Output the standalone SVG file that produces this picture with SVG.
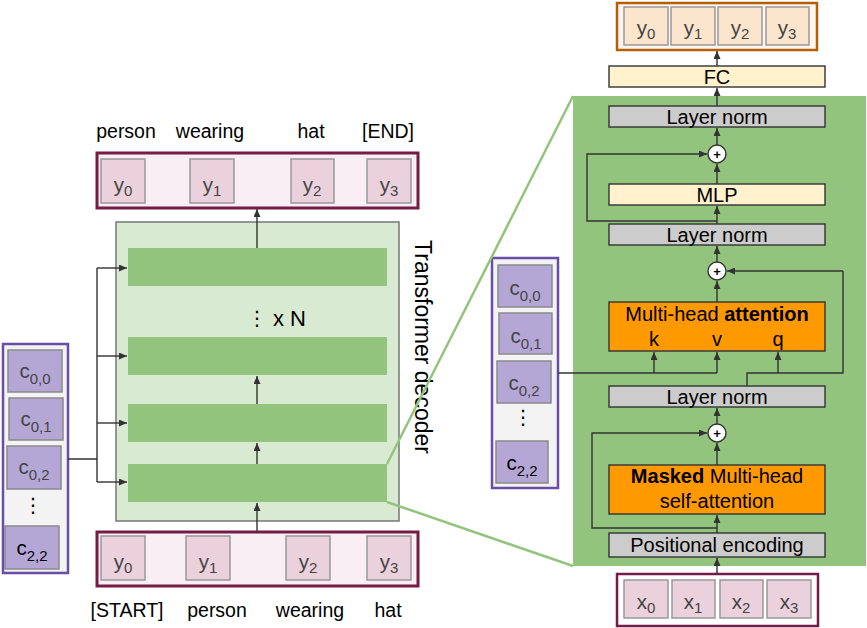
<svg xmlns="http://www.w3.org/2000/svg" width="867" height="628" viewBox="0 0 867 628">
<style>
text{font-family:"Liberation Sans",Arial,sans-serif;fill:#000}
.lbl{font-size:19.5px;text-anchor:middle}
.box{font-size:20px;text-anchor:middle}
.cell{font-size:20.5px;text-anchor:middle;fill:#444}
.sub{font-size:15px}
.ln{fill:none;stroke:#333;stroke-width:1.4}
.ar{fill:none;stroke:#333;stroke-width:1.4;marker-end:url(#ah)}
.ycell{fill:#ead1dc;stroke:#999;stroke-width:1.5}
.ocell{fill:#fce5cd;stroke:#999;stroke-width:1.5}
.ccell{fill:#b4a7d6;stroke:#8a8a8a;stroke-width:1.5}
.bar{fill:#93c47d}
.gray{fill:#cccccc;stroke:#333;stroke-width:1.4}
.yel{fill:#fff2cc;stroke:#333;stroke-width:1.4}
.org{fill:#ff9900;stroke:#333;stroke-width:1.4}
.plus{fill:#fff;stroke:#333;stroke-width:1.4}
.pl{font-size:13px;text-anchor:middle;font-weight:bold}
.dots{font-family:"DejaVu Sans",sans-serif;font-size:20px;text-anchor:middle}
</style>
<defs>
<marker id="ah" viewBox="0 0 8 7" refX="8" refY="3.5" markerWidth="8" markerHeight="7" orient="auto" markerUnits="userSpaceOnUse">
<path d="M0,0 L8,3.5 L0,7 z" fill="#333"/>
</marker>
</defs>

<!-- Right panel background -->
<g id="panel">
<rect x="573" y="96" width="293" height="470" fill="#93c47d"/>
</g>

<!-- Left: transformer decoder -->
<g id="decoder">
<rect x="116" y="222" width="283" height="299" fill="#d9ead3" stroke="#777" stroke-width="1.5"/>
<rect class="bar" x="128" y="248" width="259" height="38"/>
<rect class="bar" x="128" y="337" width="259" height="38"/>
<rect class="bar" x="128" y="404" width="259" height="38"/>
<rect class="bar" x="128" y="464" width="259" height="38"/>
<text class="dots" x="257" y="325" font-size="20">⋮</text>
<text x="273" y="326" font-size="22">x N</text>
<text font-size="23" text-anchor="middle" transform="translate(415,347) rotate(90)">Transformer decoder</text>
</g>

<g id="out-left">
<rect x="97" y="153" width="321" height="55" fill="#f8eef3" stroke="#741b47" stroke-width="3"/>
<rect class="ycell" x="101" y="159" width="44" height="44"/>
<rect class="ycell" x="190" y="159" width="44" height="44"/>
<rect class="ycell" x="291" y="159" width="43" height="44"/>
<rect class="ycell" x="367" y="159" width="44" height="44"/>
<text class="cell" x="123" y="192">y<tspan class="sub" dy="4">0</tspan></text>
<text class="cell" x="212" y="192">y<tspan class="sub" dy="4">1</tspan></text>
<text class="cell" x="312" y="192">y<tspan class="sub" dy="4">2</tspan></text>
<text class="cell" x="389" y="192">y<tspan class="sub" dy="4">3</tspan></text>
<text class="lbl" x="126" y="138">person</text>
<text class="lbl" x="210" y="138">wearing</text>
<text class="lbl" x="311" y="138">hat</text>
<text class="lbl" x="388" y="138">[END]</text>
</g>

<g id="in-left">
<rect x="97" y="532" width="321" height="54" fill="#f8eef3" stroke="#741b47" stroke-width="3"/>
<rect class="ycell" x="101" y="536" width="44" height="44"/>
<rect class="ycell" x="186" y="536" width="44" height="44"/>
<rect class="ycell" x="286" y="536" width="44" height="44"/>
<rect class="ycell" x="367" y="536" width="44" height="44"/>
<text class="cell" x="123" y="569">y<tspan class="sub" dy="4">0</tspan></text>
<text class="cell" x="208" y="569">y<tspan class="sub" dy="4">1</tspan></text>
<text class="cell" x="308" y="569">y<tspan class="sub" dy="4">2</tspan></text>
<text class="cell" x="389" y="569">y<tspan class="sub" dy="4">3</tspan></text>
<text class="lbl" x="127" y="617">[START]</text>
<text class="lbl" x="217" y="617">person</text>
<text class="lbl" x="310" y="617">wearing</text>
<text class="lbl" x="388" y="617">hat</text>
</g>

<g id="ctx-left">
<rect x="3" y="344" width="65" height="229" fill="#f3f3f3" stroke="#674ea7" stroke-width="2.5"/>
<rect class="ccell" x="8" y="350" width="54" height="42"/>
<rect class="ccell" x="9" y="398" width="54" height="42"/>
<rect class="ccell" x="7" y="446" width="54" height="43"/>
<rect class="ccell" x="5" y="526" width="54" height="43" stroke="#666"/>
<text class="cell" x="35" y="378">c<tspan class="sub" dy="6">0,0</tspan></text>
<text class="cell" x="36" y="426">c<tspan class="sub" dy="6">0,1</tspan></text>
<text class="cell" x="34" y="474">c<tspan class="sub" dy="6">0,2</tspan></text>
<text class="dots" x="33" y="512">⋮</text>
<text class="cell" x="32" y="555" style="fill:#000">c<tspan class="sub" dy="6">2,2</tspan></text>
</g>

<!-- Right side nodes -->
<g id="out-right">
<rect x="617" y="3" width="200" height="47" fill="#fdf6ee" stroke="#b45f06" stroke-width="2.5"/>
<rect class="ocell" x="624" y="7" width="44" height="38"/>
<rect class="ocell" x="671" y="7" width="44" height="38"/>
<rect class="ocell" x="718" y="7" width="44" height="38"/>
<rect class="ocell" x="766" y="7" width="43" height="38"/>
<text class="cell" x="646" y="35">y<tspan class="sub" dy="4">0</tspan></text>
<text class="cell" x="693" y="35">y<tspan class="sub" dy="4">1</tspan></text>
<text class="cell" x="740" y="35">y<tspan class="sub" dy="4">2</tspan></text>
<text class="cell" x="787" y="35">y<tspan class="sub" dy="4">3</tspan></text>
</g>
<g id="fc"><rect class="yel" x="609" y="66" width="216" height="21"/><text class="box" x="717" y="84">FC</text></g>
<g id="ln1"><rect class="gray" x="609" y="106" width="216" height="21"/><text class="box" x="717" y="124">Layer norm</text></g>
<g id="plus1"><circle class="plus" cx="717" cy="154" r="9"/><text class="pl" x="717" y="158.5">+</text></g>
<g id="mlp"><rect class="yel" x="609" y="184" width="216" height="21"/><text class="box" x="717" y="202">MLP</text></g>
<g id="ln2"><rect class="gray" x="609" y="224" width="216" height="21"/><text class="box" x="717" y="242">Layer norm</text></g>
<g id="plus2"><circle class="plus" cx="717" cy="271" r="9"/><text class="pl" x="717" y="275.5">+</text></g>
<g id="mha">
<rect class="org" x="609" y="302" width="216" height="49"/>
<text class="box" x="717" y="321">Multi-head <tspan font-weight="bold">attention</tspan></text>
<text class="box" x="654" y="346">k</text>
<text class="box" x="717" y="346">v</text>
<text class="box" x="778" y="346">q</text>
</g>
<g id="ln3"><rect class="gray" x="609" y="386" width="216" height="21"/><text class="box" x="717" y="404">Layer norm</text></g>
<g id="plus3"><circle class="plus" cx="717" cy="433" r="9"/><text class="pl" x="717" y="437.5">+</text></g>
<g id="masked">
<rect class="org" x="609" y="465" width="216" height="49"/>
<text class="box" x="717" y="483"><tspan font-weight="bold">Masked</tspan> Multi-head</text>
<text class="box" x="717" y="508">self-attention</text>
</g>
<g id="posenc"><rect class="gray" x="609" y="533" width="216" height="24"/><text class="box" x="717" y="552">Positional encoding</text></g>
<g id="in-right">
<rect x="617" y="574" width="201" height="52" fill="#fff" stroke="#741b47" stroke-width="2.5"/>
<rect class="ycell" x="624" y="580" width="44" height="38"/>
<rect class="ycell" x="672" y="580" width="43" height="38"/>
<rect class="ycell" x="720" y="580" width="43" height="38"/>
<rect class="ycell" x="767" y="580" width="44" height="38"/>
<text class="cell" x="646" y="609">x<tspan class="sub" dy="4">0</tspan></text>
<text class="cell" x="693" y="609">x<tspan class="sub" dy="4">1</tspan></text>
<text class="cell" x="741" y="609">x<tspan class="sub" dy="4">2</tspan></text>
<text class="cell" x="789" y="609">x<tspan class="sub" dy="4">3</tspan></text>
</g>
<g id="ctx-right">
<rect x="492" y="258" width="66" height="230" fill="#f3f3f3" stroke="#674ea7" stroke-width="2.5"/>
<rect class="ccell" x="498" y="265" width="54" height="42"/>
<rect class="ccell" x="499" y="313" width="53" height="41"/>
<rect class="ccell" x="497" y="361" width="54" height="42"/>
<rect class="ccell" x="496" y="441" width="52" height="42" stroke="#666"/>
<text class="cell" x="525" y="295">c<tspan class="sub" dy="6">0,0</tspan></text>
<text class="cell" x="526" y="343">c<tspan class="sub" dy="6">0,1</tspan></text>
<text class="cell" x="524" y="390">c<tspan class="sub" dy="6">0,2</tspan></text>
<text class="dots" x="523" y="424">⋮</text>
<text class="cell" x="522" y="470" style="fill:#000">c<tspan class="sub" dy="6">2,2</tspan></text>
</g>

<!-- Connectors -->
<g id="connectors">
<path class="ln" d="M68,459 H97 M97,268 V482"/>
<path class="ar" d="M97,268 H127"/>
<path class="ar" d="M97,356 H127"/>
<path class="ar" d="M97,423 H127"/>
<path class="ar" d="M97,482 H127"/>
<path class="ar" d="M257,248 V209"/>
<path class="ar" d="M257,404 V376"/>
<path class="ar" d="M257,464 V443"/>
<path class="ar" d="M257,532 V503"/>

<path class="ar" d="M717,574 V558"/>
<path class="ar" d="M717,533 V515"/>
<path class="ar" d="M717,528 H592 V433 H707"/>
<path class="ar" d="M717,465 V443"/>
<path class="ar" d="M717,424 V408"/>
<path class="ln" d="M747,386 V373 H843 V271"/>
<path class="ar" d="M843,271 H727"/>
<path class="ar" d="M778,373 V352"/>
<path class="ln" d="M558,373 H717"/>
<path class="ar" d="M654,373 V352"/>
<path class="ar" d="M717,373 V352"/>
<path class="ar" d="M717,302 V281"/>
<path class="ar" d="M717,262 V246"/>
<path class="ar" d="M717,224 V206"/>
<path class="ar" d="M717,221 H587 V154 H707"/>
<path class="ar" d="M717,184 V164"/>
<path class="ar" d="M717,145 V128"/>
<path class="ar" d="M717,106 V88"/>
<path class="ar" d="M717,66 V51"/>

<path d="M387,464 L573,96 M387,502 L573,566" fill="none" stroke="#93c47d" stroke-width="2.5"/>
</g>
</svg>
